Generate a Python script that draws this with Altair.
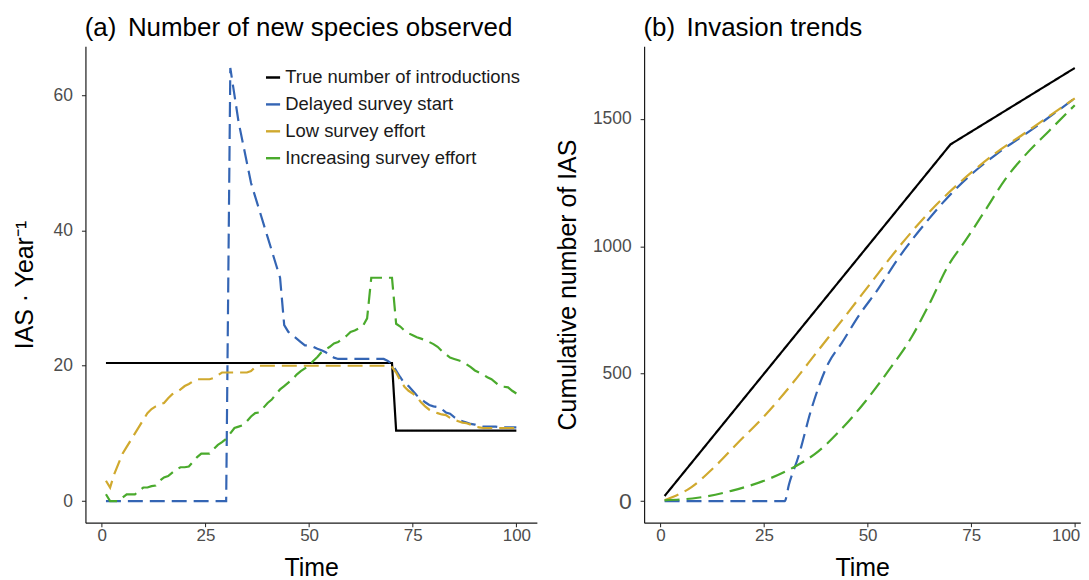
import altair as alt
import pandas as pd

# ---------------- data: panel (a) yearly values, t = 1..100 ----------------
years = list(range(1, 101))

true_rate = [
    20.4, 20.4, 20.4, 20.4, 20.4, 20.4, 20.4, 20.4, 20.4, 20.4,
    20.4, 20.4, 20.4, 20.4, 20.4, 20.4, 20.4, 20.4, 20.4, 20.4,
    20.4, 20.4, 20.4, 20.4, 20.4, 20.4, 20.4, 20.4, 20.4, 20.4,
    20.4, 20.4, 20.4, 20.4, 20.4, 20.4, 20.4, 20.4, 20.4, 20.4,
    20.4, 20.4, 20.4, 20.4, 20.4, 20.4, 20.4, 20.4, 20.4, 20.4,
    20.4, 20.4, 20.4, 20.4, 20.4, 20.4, 20.4, 20.4, 20.4, 20.4,
    20.4, 20.4, 20.4, 20.4, 20.4, 20.4, 20.4, 20.4, 20.4, 20.4,
    10.4, 10.4, 10.4, 10.4, 10.4, 10.4, 10.4, 10.4, 10.4, 10.4,
    10.4, 10.4, 10.4, 10.4, 10.4, 10.4, 10.4, 10.4, 10.4, 10.4,
    10.4, 10.4, 10.4, 10.4, 10.4, 10.4, 10.4, 10.4, 10.4, 10.4,
]

delayed_rate = [
    0, 0, 0, 0, 0, 0, 0, 0, 0, 0,
    0, 0, 0, 0, 0, 0, 0, 0, 0, 0,
    0, 0, 0, 0, 0, 0, 0, 0, 0, 0,
    64, 60, 56, 53, 50, 47, 45, 43, 41, 39,
    37, 35, 33, 26, 25, 24.5, 24, 23.5, 23, 23,
    22.8, 22.5, 22.3, 22, 21.5, 21.2, 21, 21, 21, 21,
    21, 21, 21, 21, 21, 21, 21, 21, 20.7, 20.3,
    19.3, 18.3, 17.4, 17, 16.3, 15.6, 15.1, 14.6, 14.2, 14,
    13.9, 13.6, 13.1, 12.9, 12.4, 12, 11.8, 11.6, 11.4, 11.3,
    11.1, 11, 11, 11, 11, 10.9, 10.9, 10.9, 10.9, 10.9,
]

low_rate = [
    3, 2, 4, 5.5, 7, 8, 9, 10, 11, 12,
    13, 13.6, 14, 14.3, 14.5, 15.2, 15.8, 16.1, 16.5, 17,
    17.3, 17.7, 18, 18, 18, 18, 18.2, 18.6, 19, 19,
    19, 19, 19, 19, 19, 19.2, 19.8, 20, 20, 20,
    20, 20, 20, 20, 20, 20, 20, 20, 20, 20,
    20, 20, 20, 20, 20, 20, 20, 20, 20, 20,
    20, 20, 20, 20, 20, 20, 20, 20, 20, 19.8,
    19, 17.8, 16.9, 16.3, 15.9, 15.4, 14.6, 14, 13.5, 13.2,
    13, 12.8, 12.7, 12.3, 12, 11.8, 11.6, 11.5, 11.3, 11,
    10.9, 10.8, 10.8, 10.8, 10.8, 10.8, 10.8, 10.8, 10.8, 10.8,
]

increasing_rate = [
    1, 0, 0, 0, 0.5, 1, 1, 1, 1.5, 2,
    2, 2.2, 2.3, 3, 3.5, 3.7, 4.2, 4.7, 5, 5,
    5.1, 5.8, 6.5, 7, 7, 7, 7.7, 8.3, 8.7, 9.2,
    10, 10.8, 11, 11.2, 11.8, 12.5, 13, 13.1, 13.8, 14.5,
    15, 15.8, 16.5, 17, 17.5, 18, 18.7, 19.2, 19.6, 20,
    20.7, 21.3, 22, 22.4, 22.8, 23.3, 23.5, 24, 24.4, 25,
    25.2, 25.5, 25.9, 27, 33, 33, 33, 33, 33, 33,
    26.2, 25.8, 25.2, 24.8, 24.5, 24.2, 24, 23.8, 23.5, 23.2,
    22.8, 22.2, 21.7, 21.2, 21, 20.8, 20.6, 20.2, 19.8, 19.3,
    19, 18.7, 18.3, 18, 17.5, 17, 16.9, 16.8, 16.3, 15.9,
]

# ---------------- data: panel (b) cumulative values ----------------
b_true_t = [1, 70, 100]
b_true_v = [20, 1400, 1700]

b_delayed_t = [1, 30, 31, 33.3, 36.5, 40.5, 43.7, 47.8, 52.6, 57.5, 63.9, 69.6, 75.2, 80.9, 89.8, 100]
b_delayed_v = [0, 0, 64, 175, 365, 540, 619, 726, 834, 955, 1090, 1197, 1285, 1359, 1460, 1581]

b_low_t = [1, 7.4, 13.1, 18.7, 25.2, 31.6, 38.1, 44.6, 51, 57.5, 63.9, 69.6, 75.2, 80.9, 88.1, 94.6, 100]
b_low_v = [3, 54, 135, 229, 336, 457, 592, 726, 861, 996, 1117, 1211, 1292, 1366, 1446, 1520, 1581]

b_increasing_t = [1, 9, 17.1, 25.2, 32.4, 38.1, 43.7, 49.4, 55, 60.7, 64.7, 69.6, 73.6, 78.5, 83.3, 88.1, 93.8, 100]
b_increasing_v = [3, 13, 40, 81, 135, 195, 283, 390, 511, 646, 767, 928, 1022, 1144, 1265, 1359, 1453, 1554]

series_names = [
    "True number of introductions",
    "Delayed survey start",
    "Low survey effort",
    "Increasing survey effort",
]
series_colors = ["#000000", "#3465b4", "#d0a92e", "#4aaa2c"]
series_dashes = [[1, 0], [15, 7], [15, 7], [15, 7]]

x_ticks = [0, 25, 50, 75, 100]
ya_ticks = [0, 20, 40, 60]
yb_ticks = [0, 500, 1000, 1500]


def to_long(t_lists, v_lists):
    rows = []
    for k, (name, ts, vs) in enumerate(zip(series_names, t_lists, v_lists)):
        for t, v in zip(ts, vs):
            rows.append({"t": t, "v": v, "s": name, "k": k})
    return pd.DataFrame(rows)


df_a = to_long([years, years, years, years],
               [true_rate, delayed_rate, low_rate, increasing_rate])
df_b = to_long([b_true_t, b_delayed_t, b_low_t, b_increasing_t],
               [b_true_v, b_delayed_v, b_low_v, b_increasing_v])

FONT = "Liberation Sans"
LW = 2.2

color_scale = alt.Scale(domain=series_names, range=series_colors)
dash_scale = alt.Scale(domain=series_names, range=series_dashes)

# ---------------- panel (a) ----------------
legend_a = alt.Legend(
    title=None, orient="none", legendX=179, legendY=22,
    symbolType="stroke", symbolSize=200, symbolStrokeWidth=2.4,
    labelFont=FONT, labelFontSize=18.5, labelColor="#1a1a1a",
    labelOffset=3, rowPadding=8, padding=0, labelLimit=400,
)

panel_a = alt.Chart(df_a).mark_line(strokeWidth=LW, clip=True).encode(
    x=alt.X("t:Q", scale=alt.Scale(domain=[-3.95, 104.95], nice=False, zero=False),
            axis=alt.Axis(values=x_ticks, title="Time")),
    y=alt.Y("v:Q", scale=alt.Scale(domain=[-3.2, 67.2], nice=False, zero=False),
            axis=alt.Axis(values=ya_ticks, title="IAS · Year⁻¹", titlePadding=16)),
    color=alt.Color("s:N", scale=color_scale, legend=legend_a),
    strokeDash=alt.StrokeDash("s:N", scale=dash_scale, legend=None),
).properties(
    width=453, height=478,
    title=alt.TitleParams("(a)\u00a0\u2006Number of new species observed", anchor="start",
                          frame="group", fontSize=26, font=FONT, fontWeight="normal",
                          color="#000", offset=-16, dx=-0.7, baseline="alphabetic"),
)

# ---------------- panel (b) ----------------
xb = alt.X("t:Q", scale=alt.Scale(domain=[-3.95, 101.34], nice=False, zero=False),
           axis=alt.Axis(
               values=x_ticks, title="Time",
               labelAlign={"condition": {"test": "datum.value === 100", "value": "right"},
                           "value": "center"},
               labelOffset={"condition": {"test": "datum.value === 100", "value": 5},
                            "value": 0},
           ))
yb = alt.Y("v:Q", scale=alt.Scale(domain=[-85, 1785], nice=False, zero=False),
           axis=alt.Axis(values=yb_ticks, title="Cumulative number of IAS", format="d",
                         labelFontSize={"condition": {"test": "datum.value === 0", "value": 23},
                                        "value": 17.5}))
cb = alt.Color("s:N", scale=color_scale, legend=None)
db = alt.StrokeDash("s:N", scale=dash_scale, legend=None)

b_true_line = alt.Chart(df_b).transform_filter(
    alt.datum.k == 0
).mark_line(strokeWidth=LW, clip=True).encode(x=xb, y=yb, color=cb, strokeDash=db)

b_other_lines = alt.Chart(df_b).transform_filter(
    alt.datum.k > 0
).mark_line(strokeWidth=LW, interpolate="monotone", clip=True).encode(
    x=xb, y=yb, color=cb, strokeDash=db)

panel_b = alt.layer(b_true_line, b_other_lines).properties(
    width=437.7, height=478,
    title=alt.TitleParams("(b)\u00a0\u2006Invasion trends", anchor="start",
                          frame="group", fontSize=26, font=FONT, fontWeight="normal",
                          color="#000", offset=-16, dx=-0.7, baseline="alphabetic"),
)

chart = alt.hconcat(panel_a, panel_b, spacing=18.6).resolve_scale(
    color="independent", strokeDash="independent"
).properties(
    padding={"left": 3.7, "top": 6.5, "right": 0, "bottom": 0},
).configure_view(stroke=None).configure_axis(
    grid=False, domainColor="#1a1a1a", domainWidth=1.2,
    tickColor="#333333", tickWidth=1.1, tickSize=4,
    labelFont=FONT, labelFontSize=17.5, labelColor="#4d4d4d",
    titleFont=FONT, titleFontSize=25, titleFontWeight="normal", titleColor="#000000",
).configure_axisX(labelPadding=1, titlePadding=12, labelFontSize=17).configure_axisY(
    labelPadding=9, titlePadding=12
)

chart.save("out.html", embed_options={"renderer": "svg", "actions": False})
